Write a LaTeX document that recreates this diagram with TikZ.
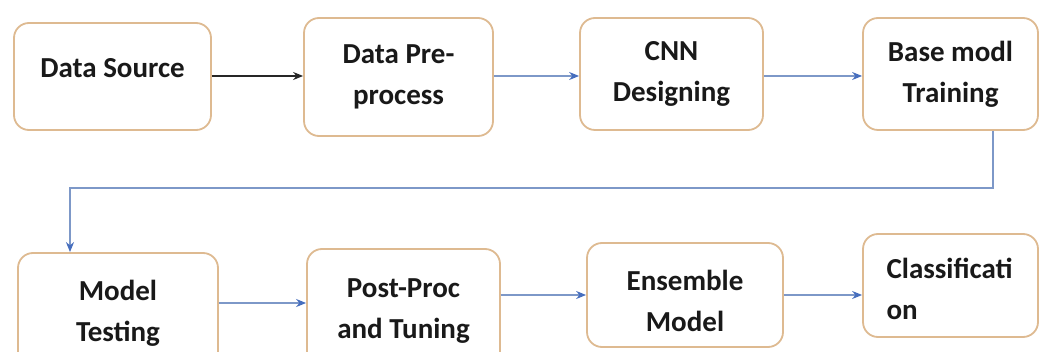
\documentclass[tikz,border=0pt]{standalone}
\usepackage{fontspec}
\setmainfont{Carlito}
\usetikzlibrary{arrows.meta}
\definecolor{boxline}{RGB}{222,186,145}
\definecolor{flow}{RGB}{125,152,200}
\definecolor{flowtip}{RGB}{70,110,190}
\tikzset{
  stepbox/.style={draw=boxline, line width=1.8pt, rounded corners=15pt, fill=white, inner sep=0pt},
  lbl/.style={font=\fontsize{29}{41}\selectfont\bfseries, align=center, text=black!90},
  flowline/.style={draw=flow, line width=1.3pt, -{Stealth[length=10pt,width=8pt,color=flowtip]}},
  blackline/.style={draw=black!85, line width=1.3pt, -{Stealth[length=10pt,width=8pt]}}
}
\begin{document}
\begin{tikzpicture}[x=1pt,y=-1pt]
\useasboundingbox (0,0) rectangle (1040,352);
\fill[white] (0,0) rectangle (1040,352);
% row 1
\node[stepbox, minimum width=197pt, minimum height=107pt] (ds) at (112.5,76.5) {};
\node[lbl] at (112.5,68) {Data Source};
\node[stepbox, minimum width=189pt, minimum height=118pt, lbl] (dp) at (398.5,77) {Data Pre-\\process};
\node[stepbox, minimum width=183pt, minimum height=112pt, lbl] (cnn) at (671.5,74) {CNN\\Designing};
\node[stepbox, minimum width=175pt, minimum height=112pt, lbl] (bm) at (950.5,74) {Base modl\\Training};
% row 2
\node[stepbox, minimum width=200pt, minimum height=120pt, lbl] (mt) at (118,313) {Model\\Testing};
\node[stepbox, minimum width=193pt, minimum height=124pt, lbl] (pp) at (403.5,311) {Post-Proc\\and Tuning};
\node[stepbox, minimum width=196pt, minimum height=104pt] (em) at (685,295) {};
\node[lbl] at (685,301) {Ensemble\\Model};
\node[stepbox, minimum width=175pt, minimum height=103pt] (cl) at (950.5,285.5) {};
\node[lbl, align=left, anchor=west] (cltext) at (883,289) {Classificati\\on};
% coordinates for connectors
\coordinate (r1) at (0,76);
\coordinate (r2) at (0,303);
\coordinate (r3) at (0,295);
\coordinate (fbx) at (993,0);
\coordinate (fby) at (0,188);
\coordinate (mtx) at (70,0);
% connectors
\draw[blackline] (ds.east |- r1) -- (dp.west |- r1);
\draw[flowline] (dp.east |- r1) -- (cnn.west |- r1);
\draw[flowline] (cnn.east |- r1) -- (bm.west |- r1);
\draw[flowline] (bm.south -| fbx) -- (fbx |- fby) -- (mtx |- fby) -- (mt.north -| mtx);
\draw[flowline] (mt.east |- r2) -- (pp.west |- r2);
\draw[flowline] (pp.east |- r3) -- (em.west |- r3);
\draw[flowline] (em.east |- r3) -- (cl.west |- r3);
\end{tikzpicture}
\end{document}
